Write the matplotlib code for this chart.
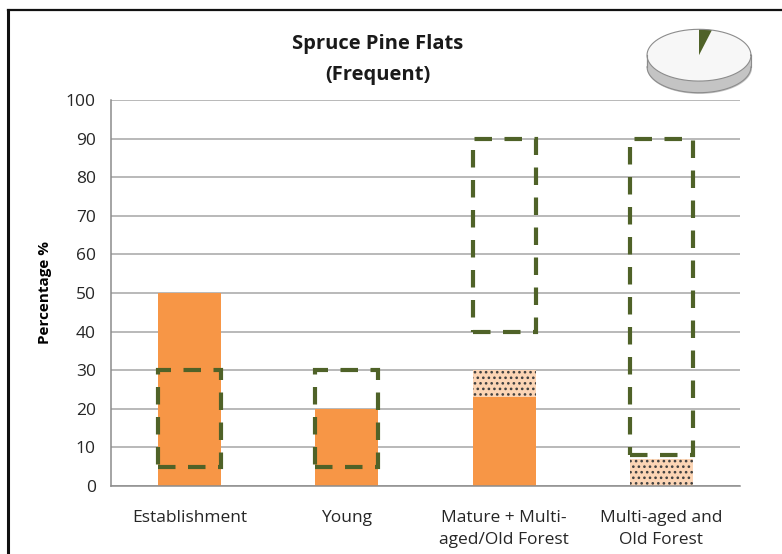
import numpy as np
import matplotlib
matplotlib.use("Agg")
import matplotlib.pyplot as plt
from matplotlib.patches import Rectangle
from matplotlib.lines import Line2D

plt.rcParams['font.family'] = ['Open Sans', 'DejaVu Sans']
plt.rcParams['hatch.color'] = '#404040'
plt.rcParams['hatch.linewidth'] = 1.1

categories = ["Establishment", "Young", "Mature + Multi-\naged/Old Forest", "Multi-aged and\nOld Forest"]
current_solid = [50, 20, 23, 0]
current_dotted = [0, 0, 7, 7]
range_low = [5, 5, 40, 8]
range_high = [30, 30, 90, 90]
pie_values = [96, 4]
yticks = list(range(0, 101, 10))

W, H = 782, 554
fig = plt.figure(figsize=(W/100, H/100), dpi=100)
ax = fig.add_axes([111/W, 1-486/H, (740-111)/W, (486-100)/H])

x = np.arange(len(categories))
bw = 0.4
ax.bar(x, current_solid, width=bw, color='#F79646', zorder=2)
ax.bar(x, current_dotted, width=bw, bottom=current_solid, color='#FCD5B5',
       hatch='...', edgecolor='#404040', linewidth=0, zorder=2)

for xi, lo, hi in zip(x, range_low, range_high):
    r = Rectangle((xi - bw/2, lo), bw, hi - lo, fill=False, edgecolor='#4F6228',
                  linewidth=3.0, linestyle=(0, (4.2, 3.0)), zorder=3)
    ax.add_patch(r)

ax.set_xlim(-0.5, len(categories) - 0.5)
ax.set_ylim(0, 100)
ax.set_yticks(yticks)
ax.set_xticks(x)
ax.set_xticklabels(categories, fontsize=12.5, color='#262626', linespacing=1.55)
ax.tick_params(axis='y', length=0, pad=11, labelsize=12.5, labelcolor='#262626')
ax.tick_params(axis='x', length=0, pad=17)
ax.yaxis.grid(True, color='#A6A6A6', linewidth=1.1, zorder=0)
ax.set_axisbelow(True)
for s in ['top', 'right']:
    ax.spines[s].set_visible(False)
for s in ['left', 'bottom']:
    ax.spines[s].set_color('#8C8C8C')
    ax.spines[s].set_linewidth(1.1)
ax.set_ylabel("Percentage %", fontsize=11, fontweight='bold', labelpad=10)

fig.text(378/W, 1-44/H, "Spruce Pine Flats", ha='center', va='center',
         fontsize=14.5, fontweight='bold', color='#1a1a1a')
fig.text(378/W, 1-75/H, "(Frequent)", ha='center', va='center',
         fontsize=14.5, fontweight='bold', color='#1a1a1a')

# frame lines
fig.add_artist(Line2D([8/W, 8/W], [0, 1-10/H], color='#111111', linewidth=2.2))
fig.add_artist(Line2D([8/W, 1], [1-10/H, 1-10/H], color='#111111', linewidth=1.6))

# small 3D pie
pax = fig.add_axes([646/W, 1-94/H, 106/W, 66/H])
d = 0.45
xs = np.linspace(-1, 1, 300)
pax.fill_between(xs, -np.sqrt(1 - xs**2) - d, -np.sqrt(1 - xs**2) + 0.01,
                 color='#C4C4C4', zorder=1)
pax.plot(xs, -np.sqrt(1 - xs**2) - d, color='#8C8C8C', linewidth=0.8, zorder=2)
pax.plot([-1, -1], [0, -d], color='#8C8C8C', linewidth=0.8, zorder=2)
pax.plot([1, 1], [0, -d], color='#8C8C8C', linewidth=0.8, zorder=2)
pax.pie(pie_values, colors=['#F7F7F7', '#4F6228'], startangle=90, counterclock=True,
        wedgeprops=dict(edgecolor='none'), radius=1.0)
pax.set_aspect('auto')
pax.axis('off')
pax.set_xlim(-1.02, 1.02)
pax.set_ylim(-1 - d - 0.05, 1.05)
t = np.linspace(0, 2*np.pi, 400)
pax.plot(np.cos(t), np.sin(t), color='#8C8C8C', linewidth=0.8, zorder=5)

fig.savefig("out.png", dpi=100)
